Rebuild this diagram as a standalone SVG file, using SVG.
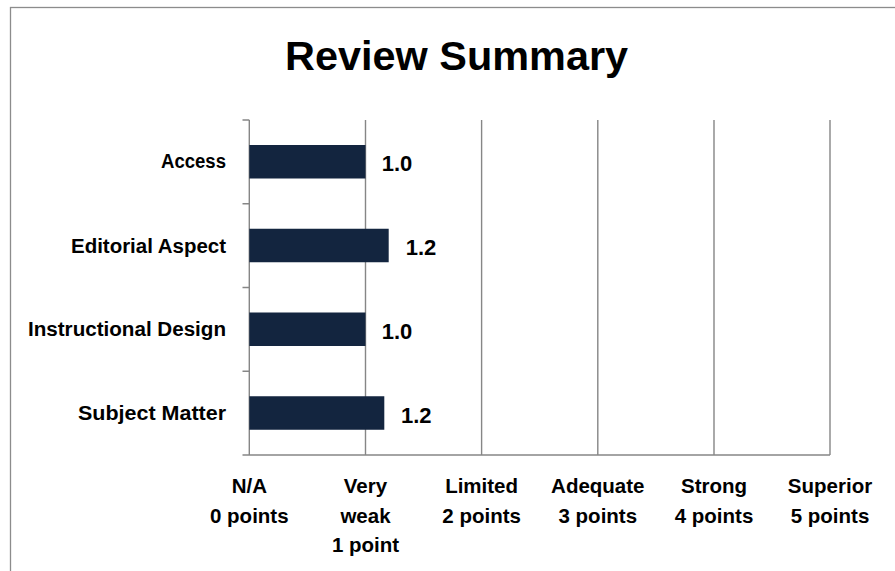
<svg xmlns="http://www.w3.org/2000/svg" width="895" height="571" viewBox="0 0 895 571">
<style>
.grid{stroke:#868686;stroke-width:1.4;fill:none}
.frame{stroke:#8c8c8c;stroke-width:1.3;fill:none}
.bar{fill:#13253f}
.t{font-family:"Liberation Sans",Arial,sans-serif;font-weight:bold;fill:#000}
.title{font-size:40px;text-anchor:middle}
.cat{font-size:20px;text-anchor:end}
.val{font-size:22px}
.ax{font-size:20.5px;text-anchor:middle}
</style>
<rect x="0" y="0" width="895" height="571" fill="#fff"/>
<rect class="frame" x="10.5" y="7.5" width="920" height="620"/>
<text class="t title" x="456.6" y="70" textLength="343" lengthAdjust="spacingAndGlyphs">Review Summary</text>
<g id="axes">
<path class="grid" d="M365.5 120V455M481.6 120V455M597.8 120V455M714 120V455M830 120V455"/>
<path class="grid" d="M249.3 120V455M242.5 455H830M242.5 120H249.3M242.5 203.75H249.3M242.5 287.5H249.3M242.5 371.25H249.3"/>
</g>
<g id="access">
<rect class="bar" x="249.3" y="145" width="116.2" height="33.5"/>
<text class="t cat" x="226" y="168.3" textLength="65" lengthAdjust="spacingAndGlyphs">Access</text>
<text class="t val" x="381.7" y="170.7">1.0</text>
</g>
<g id="editorial">
<rect class="bar" x="249.3" y="228.75" width="139.4" height="33.5"/>
<text class="t cat" x="226" y="252.5" textLength="155" lengthAdjust="spacingAndGlyphs">Editorial Aspect</text>
<text class="t val" x="405.7" y="255">1.2</text>
</g>
<g id="instructional">
<rect class="bar" x="249.3" y="312.5" width="116.2" height="33.5"/>
<text class="t cat" x="226" y="336.3" textLength="198" lengthAdjust="spacingAndGlyphs">Instructional Design</text>
<text class="t val" x="381.7" y="339">1.0</text>
</g>
<g id="subject">
<rect class="bar" x="249.3" y="396.25" width="135" height="33.5"/>
<text class="t cat" x="226" y="420" textLength="148" lengthAdjust="spacingAndGlyphs">Subject Matter</text>
<text class="t val" x="401" y="422.7">1.2</text>
</g>
<g id="xlabels">
<text class="t ax" x="249.3" y="493"><tspan x="249.3">N/A</tspan><tspan x="249.3" y="522.5">0 points</tspan></text>
<text class="t ax" x="365.5" y="493"><tspan x="365.5">Very</tspan><tspan x="365.5" y="522.5">weak</tspan><tspan x="365.5" y="552">1 point</tspan></text>
<text class="t ax" x="481.6" y="493"><tspan x="481.6">Limited</tspan><tspan x="481.6" y="522.5">2 points</tspan></text>
<text class="t ax" x="597.8" y="493"><tspan x="597.8">Adequate</tspan><tspan x="597.8" y="522.5">3 points</tspan></text>
<text class="t ax" x="714" y="493"><tspan x="714">Strong</tspan><tspan x="714" y="522.5">4 points</tspan></text>
<text class="t ax" x="830" y="493"><tspan x="830">Superior</tspan><tspan x="830" y="522.5">5 points</tspan></text>
</g>
</svg>
